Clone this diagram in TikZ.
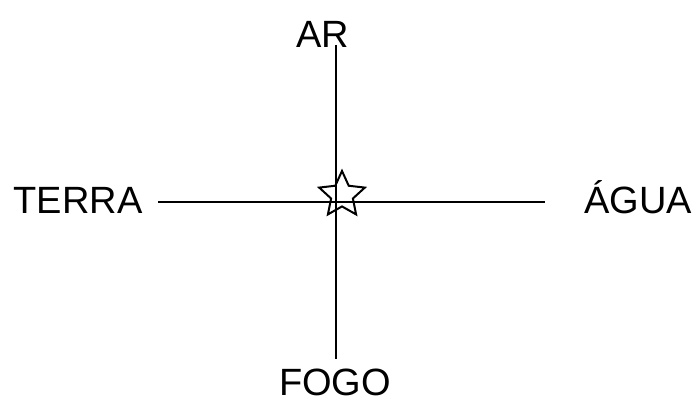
\documentclass[tikz,border=0pt]{standalone}
\usepackage{fontspec}
\setmainfont{Liberation Sans}
\usetikzlibrary{shapes.geometric}
\begin{document}
\begin{tikzpicture}[x=1pt,y=1pt,
  lbl/.style={font=\fontsize{38}{40}\selectfont, inner sep=0pt, anchor=base},
  axis/.style={line width=2.2pt, black},
  starmark/.style={star, star points=5, star point ratio=2.1, minimum size=48pt, draw, line width=2pt, inner sep=0pt}]
\useasboundingbox (0,0) rectangle (695,403);
\node[lbl] (ar) at (323,355) {AR};
\node[lbl] (terra) at (78,189) {TERRA};
\node[lbl] (agua) at (638,189) {ÁGUA};
\node[lbl] (fogo) at (335,7) {FOGO};
\coordinate (vtop) at (336,358);
\coordinate (vbot) at (336,44);
\coordinate (hl) at (158,201);
\coordinate (hr) at (545,201);
\draw[axis] (vtop) -- (vbot);
\draw[axis] (hl) -- (hr);
\node[starmark] (st) at (342,208) {};
\end{tikzpicture}
\end{document}
